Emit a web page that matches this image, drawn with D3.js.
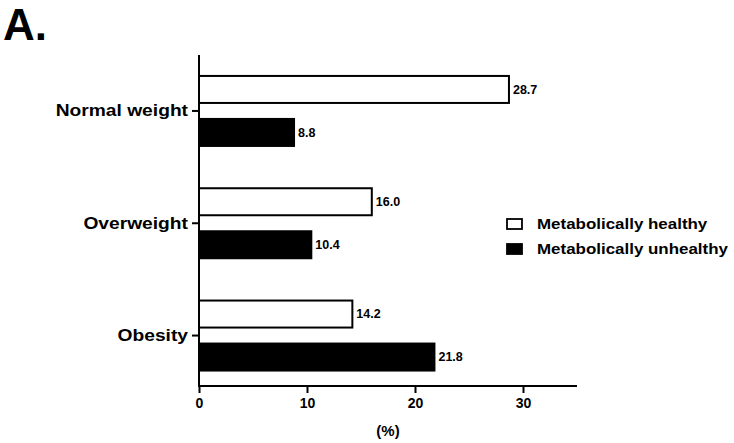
<!DOCTYPE html>
<html><head><meta charset="utf-8">
<script src="https://cdn.jsdelivr.net/npm/d3@7"></script>
<style>body{margin:0;background:#fff}svg{display:block}text{font-family:"Liberation Sans",Arial,sans-serif;font-weight:bold;fill:#000}</style>
</head><body><svg id="c" width="734" height="443"></svg>
<script>
const categories = ["Normal weight", "Overweight", "Obesity"];
const series = ["Metabolically healthy", "Metabolically unhealthy"];
const healthy = [28.7, 16.0, 14.2];
const unhealthy = [8.8, 10.4, 21.8];
const xTicks = [0, 10, 20, 30];
const xLabel = "(%)";
const panelLabel = "A.";

const values = [healthy, unhealthy];
const fills = ["#fff", "#000"];
const svg = d3.select("#c");
const x = d3.scaleLinear().domain([0, 35]).range([199, 577]);
const y = d3.scaleBand().domain(categories).range([54.8, 391.7]);
const inner = d3.scaleBand().domain(series).range([-35, 35]).paddingInner(0.372);

function stretch(sel, k) {
  sel.each(function() {
    const w = this.getComputedTextLength();
    d3.select(this).attr("textLength", w * k).attr("lengthAdjust", "spacingAndGlyphs");
  });
}

svg.append("text").attr("x", 3).attr("y", 40).attr("font-size", 44).text(panelLabel);

// bars
series.forEach((s, si) => {
  svg.append("g").selectAll("rect").data(categories).join("rect")
    .attr("x", x(0))
    .attr("y", (c) => y(c) + y.bandwidth()/2 + inner(s))
    .attr("width", (c, i) => x(values[si][i]) - x(0))
    .attr("height", inner.bandwidth())
    .attr("fill", fills[si]).attr("stroke", "#000").attr("stroke-width", 2);
  svg.append("g").selectAll("text").data(categories).join("text")
    .attr("x", (c, i) => x(values[si][i]) + 4)
    .attr("y", (c) => y(c) + y.bandwidth()/2 + inner(s) + inner.bandwidth()/2)
    .attr("dy", "0.35em").attr("font-size", 12.5)
    .text((c, i) => values[si][i].toFixed(1));
});

// x axis
const xa = svg.append("g").attr("transform", "translate(0,386)")
  .call(d3.axisBottom(x).tickValues(xTicks).tickSize(7).tickPadding(5));
xa.select(".domain").attr("stroke-width", 2).attr("d", `M${x(0)},0H${x(35)}`);
xa.selectAll(".tick line").attr("stroke-width", 2);
xa.selectAll(".tick text").attr("font-size", 14).attr("font-family", "Liberation Sans").attr("font-weight", "bold");
svg.append("text").attr("x", (x(0)+x(35))/2).attr("y", 436).attr("text-anchor", "middle").attr("font-size", 15).text(xLabel);

// y axis
const ya = svg.append("g").attr("transform", `translate(${x(0)},0)`)
  .call(d3.axisLeft(y).tickSize(7).tickPadding(4));
ya.select(".domain").attr("stroke-width", 2).attr("d", `M0,55V387`);
ya.selectAll(".tick line").attr("stroke-width", 2);
const yt = ya.selectAll(".tick text").attr("font-size", 17).attr("font-family", "Liberation Sans").attr("font-weight", "bold");
stretch(yt, 1.13);

// legend
const lg = svg.append("g");
series.forEach((s, i) => {
  lg.append("rect").attr("x", 507).attr("y", 219 + i*25).attr("width", 15).attr("height", 10)
    .attr("fill", fills[i]).attr("stroke", "#000").attr("stroke-width", 1.8);
  const t = lg.append("text").attr("x", 537).attr("y", 224 + i*25).attr("dy", "0.35em").attr("font-size", 15.4).text(s);
  stretch(t, 1.1);
});
</script></body></html>
